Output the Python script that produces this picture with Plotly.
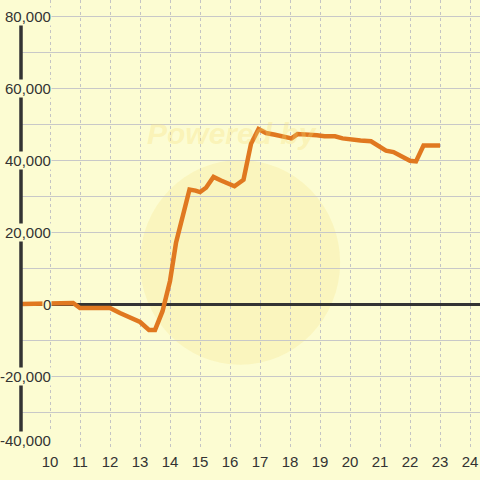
import plotly.graph_objects as go

hours = [9.05, 10.67, 10.77, 11.0, 12.0, 12.33, 13.0, 13.3, 13.5, 13.75, 14.0, 14.2, 14.45, 14.65,
         14.85, 15.0, 15.2, 15.45, 15.7, 15.95, 16.15, 16.45, 16.7, 16.95, 17.2, 17.5, 17.85,
         18.05, 18.25, 18.6, 18.9, 19.15, 19.5, 19.75, 20.0, 20.35, 20.7, 20.9, 21.2, 21.45,
         21.75, 22.0, 22.2, 22.45, 23.0]
values = [0, 0, 300, -1100, -1100, -2500, -5000, -7200, -7200, -2000, 6400, 17000, 25000, 31800,
          31500, 31100, 32300, 35300, 34300, 33300, 32700, 34500, 44500, 48600, 47500, 47000, 46200,
          46000, 47200, 47200, 46900, 46600, 46600, 46000, 45700, 45400, 45200, 44200, 42600, 42200,
          40900, 39800, 39600, 44000, 44000]

x_ticks = list(range(10, 25))
y_ticks = [80000, 60000, 40000, 20000, 0, -20000, -40000]
y_labels = ["80,000", "60,000", "40,000", "20,000", "0", "-20,000", "-40,000"]

BG = "#fcfcd2"
FONT = "Liberation Sans, Arial"

fig = go.Figure()
fig.add_trace(go.Scatter(x=hours, y=values, mode="lines",
                         line=dict(color="#e07820", width=4.5), hoverinfo="skip"))

shapes = [
    # faint watermark circle
    dict(type="circle", xref="x", yref="y", x0=13.0, x1=19.67, y0=-16900, y1=40000,
         fillcolor="rgba(248,225,120,0.22)", line=dict(width=0), layer="below"),
    # y axis line
    dict(type="line", xref="paper", yref="y", x0=0, x1=0, y0=-40000, y1=80000,
         line=dict(color="#333333", width=3.5)),
]

annotations = []
for v, t in zip(y_ticks, y_labels):
    last = v == min(y_ticks)
    annotations.append(dict(xref="paper", yref="y", x=0.0675, y=v, text=t, showarrow=False,
                            xanchor="right", yanchor="bottom" if last else "middle",
                            yshift=-2 if last else 0, bgcolor=BG, borderpad=0,
                            font=dict(family=FONT, size=15, color="#333333")))
annotations.append(dict(xref="x", yref="y", x=16.07, y=47500, text="<b><i>Powered by</i></b>",
                        showarrow=False, font=dict(family=FONT, size=30,
                                                   color="rgba(245,222,120,0.3)")))

fig.update_layout(
    width=480, height=480,
    margin=dict(l=21, r=0, t=0, b=32),
    paper_bgcolor=BG, plot_bgcolor=BG,
    showlegend=False,
    shapes=shapes, annotations=annotations,
    xaxis=dict(range=[9.033, 24.333], tickvals=x_ticks, ticktext=[str(t) for t in x_ticks],
               showgrid=True, gridcolor="#c4c4c4", griddash="dot", gridwidth=1,
               zeroline=False, showline=False, ticks="", ticklabelstandoff=3,
               tickfont=dict(family=FONT, size=15, color="#333333")),
    yaxis=dict(range=[-40000, 84444], tickvals=list(range(-40000, 80001, 10000)),
               showticklabels=False, showgrid=True, gridcolor="#c8c8c8", gridwidth=1.2,
               zeroline=True, zerolinecolor="#333333", zerolinewidth=3, showline=False, ticks=""),
)

fig.write_html("out.html", config={"displayModeBar": False},
               post_script="document.body.style.margin='0px';document.body.style.background='" + BG + "';")
